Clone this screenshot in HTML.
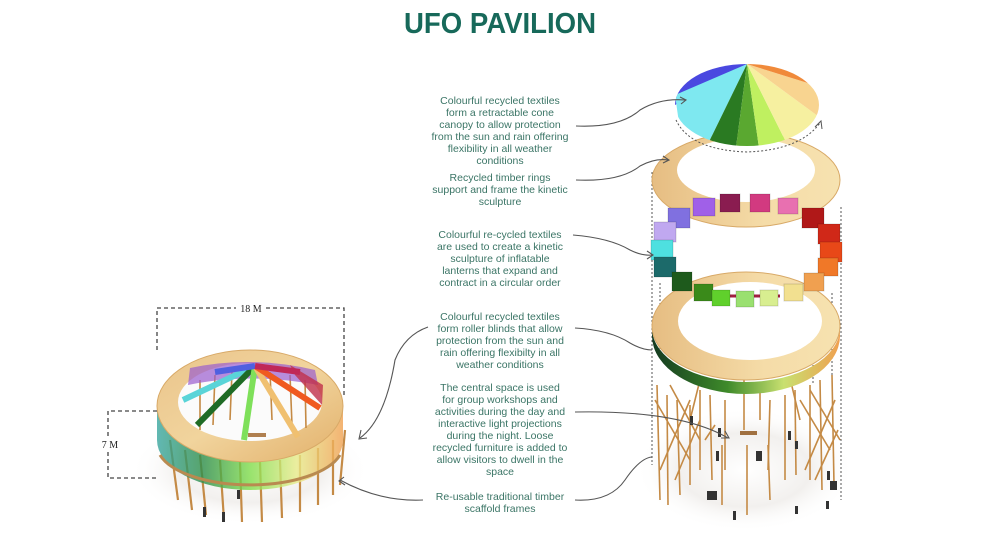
<!DOCTYPE html>
<html><head><meta charset="utf-8"><style>
html,body{margin:0;padding:0;background:#fff;}
svg{display:block}
.t{font-family:"Liberation Sans",sans-serif;font-size:10.5px;fill:#3b7566;text-anchor:middle}
.c{fill:none;stroke:#555;stroke-width:1.1}
.d{stroke:#555;stroke-width:1;stroke-dasharray:2,2;fill:none}
.dim{stroke:#444;stroke-width:1.3;stroke-dasharray:4,3;fill:none}
.leg{stroke:#c48a45;stroke-width:2.2}
.lg{stroke:#c48a45;stroke-width:1.6}
</style></head><body>
<svg width="1000" height="535" viewBox="0 0 1000 535" xmlns="http://www.w3.org/2000/svg">
<defs>
<radialGradient id="sh" cx="50%" cy="50%" r="50%"><stop offset="0" stop-color="#fff"/><stop offset="0.6" stop-color="#f2f0ee"/><stop offset="1" stop-color="#fff" stop-opacity="0"/></radialGradient>
<linearGradient id="wood" x1="0" y1="0" x2="1" y2="1"><stop offset="0" stop-color="#eac48b"/><stop offset="0.5" stop-color="#f1d49d"/><stop offset="1" stop-color="#e2b06a"/></linearGradient>
<linearGradient id="wood2" x1="0" y1="0" x2="1" y2="0"><stop offset="0" stop-color="#e6bd82"/><stop offset="0.6" stop-color="#f5dca8"/><stop offset="1" stop-color="#f6e2b0"/></linearGradient>
<linearGradient id="band" x1="0" y1="0" x2="1" y2="0"><stop offset="0" stop-color="#3aa6a0"/><stop offset="0.25" stop-color="#2e8f4a"/><stop offset="0.5" stop-color="#7fdc4a"/><stop offset="0.75" stop-color="#e8ec8a"/><stop offset="1" stop-color="#f0a050"/></linearGradient>
<linearGradient id="band2" x1="0" y1="0" x2="1" y2="0"><stop offset="0" stop-color="#143a20"/><stop offset="0.4" stop-color="#3e8a2a"/><stop offset="0.7" stop-color="#c8e070"/><stop offset="1" stop-color="#f0a050"/></linearGradient>
<clipPath id="canopy"><ellipse cx="747" cy="105" rx="72" ry="41"/></clipPath>
</defs>

<text x="500" y="33" font-family="'Liberation Sans',sans-serif" font-weight="bold" font-size="29" fill="#17695a" text-anchor="middle" textLength="192" lengthAdjust="spacingAndGlyphs">UFO PAVILION</text>

<g class="t">
<text x="500" y="104">Colourful recycled textiles</text>
<text x="500" y="116">form a retractable cone</text>
<text x="500" y="128">canopy to allow protection</text>
<text x="500" y="140">from the sun and rain offering</text>
<text x="500" y="152">flexibility in all weather</text>
<text x="500" y="164">conditions</text>
<text x="500" y="181">Recycled timber rings</text>
<text x="500" y="193">support and frame the kinetic</text>
<text x="500" y="205">sculpture</text>
<text x="500" y="238">Colourful re-cycled textiles</text>
<text x="500" y="250">are used to create a kinetic</text>
<text x="500" y="262">sculpture of inflatable</text>
<text x="500" y="274">lanterns that expand and</text>
<text x="500" y="286">contract in a circular order</text>
<text x="500" y="320">Colourful recycled textiles</text>
<text x="500" y="332">form roller blinds that allow</text>
<text x="500" y="344">protection from the sun and</text>
<text x="500" y="356">rain offering flexibilty in all</text>
<text x="500" y="368">weather conditions</text>
<text x="500" y="391">The central space is used</text>
<text x="500" y="403">for group workshops and</text>
<text x="500" y="415">activities during the day and</text>
<text x="500" y="427">interactive light projections</text>
<text x="500" y="439">during the night. Loose</text>
<text x="500" y="451">recycled furniture is added to</text>
<text x="500" y="463">allow visitors to dwell in the</text>
<text x="500" y="475">space</text>
<text x="500" y="500">Re-usable traditional timber</text>
<text x="500" y="512">scaffold frames</text>
</g>

<!-- LEFT PAVILION -->
<ellipse cx="250" cy="470" rx="120" ry="55" fill="url(#sh)"/>
<g class="leg">
<line x1="170" y1="440" x2="178" y2="500"/><line x1="185" y1="450" x2="192" y2="510"/><line x1="200" y1="455" x2="206" y2="515"/>
<line x1="220" y1="460" x2="224" y2="520"/><line x1="240" y1="462" x2="242" y2="522"/><line x1="260" y1="462" x2="262" y2="522"/>
<line x1="280" y1="460" x2="282" y2="518"/><line x1="300" y1="455" x2="300" y2="512"/><line x1="318" y1="448" x2="318" y2="505"/>
<line x1="333" y1="440" x2="333" y2="495"/><line x1="345" y1="430" x2="340" y2="485"/>
</g>
<path d="M157 406 L157 440 A93 50 0 0 0 343 440 L343 406 Z" fill="url(#band)" opacity="0.8"/>
<path d="M160 455 A93 40 0 0 0 340 455" fill="none" stroke="#b98a50" stroke-width="3"/>
<ellipse cx="250" cy="406" rx="93" ry="56" fill="url(#wood)" stroke="#d8a967" stroke-width="1"/>
<ellipse cx="250" cy="402" rx="72" ry="39" fill="#fbfbfb"/>
<g class="lg">
<line x1="200" y1="380" x2="200" y2="430"/><line x1="215" y1="375" x2="213" y2="425"/><line x1="232" y1="372" x2="230" y2="420"/>
<line x1="270" y1="372" x2="272" y2="420"/><line x1="290" y1="375" x2="292" y2="425"/><line x1="305" y1="380" x2="306" y2="428"/>
</g>
<path d="M190 368 Q250 355 315 370 L318 385 Q250 372 188 385 Z" fill="#9a5ccf" opacity="0.7"/>
<path d="M290 365 L323 385 L322 405 L295 375Z" fill="#c0304a" opacity="0.8"/>
<g stroke-width="6" stroke-linecap="butt">
<line x1="255" y1="366" x2="183" y2="400" stroke="#59d4d8"/>
<line x1="255" y1="366" x2="197" y2="425" stroke="#1f6b25"/>
<line x1="255" y1="366" x2="244" y2="440" stroke="#7ee05a"/>
<line x1="255" y1="366" x2="298" y2="437" stroke="#f0c070"/>
<line x1="255" y1="366" x2="320" y2="408" stroke="#f05a20"/>
<line x1="255" y1="366" x2="215" y2="372" stroke="#5060e0"/>
<line x1="255" y1="366" x2="300" y2="372" stroke="#c02858"/>
</g>
<rect x="248" y="433" width="18" height="4" fill="#b08050"/>
<g fill="#333"><rect x="203" y="507" width="3" height="10"/><rect x="222" y="512" width="3" height="10"/><rect x="237" y="490" width="3" height="9"/></g>

<path class="dim" d="M157 350 L157 308 L236 308 M266 308 L344 308 L344 398"/>
<text x="251" y="312" font-family="'Liberation Serif',serif" font-size="10" fill="#222" text-anchor="middle">18 M</text>
<path class="dim" d="M157 411 L108 411 L108 436 M108 452 L108 478 L157 478"/>
<text x="110" y="448" font-family="'Liberation Serif',serif" font-size="10" fill="#222" text-anchor="middle">7 M</text>

<!-- RIGHT: scaffold -->
<ellipse cx="745" cy="470" rx="110" ry="62" fill="url(#sh)"/>
<g class="lg">
<line x1="657" y1="385" x2="660" y2="500"/><line x1="667" y1="395" x2="668" y2="505"/><line x1="677" y1="400" x2="680" y2="495"/>
<line x1="690" y1="405" x2="690" y2="485"/><line x1="700" y1="390" x2="700" y2="470"/><line x1="710" y1="395" x2="712" y2="480"/>
<line x1="725" y1="400" x2="725" y2="470"/><line x1="744" y1="380" x2="744" y2="430"/><line x1="760" y1="385" x2="760" y2="420"/>
<line x1="770" y1="400" x2="768" y2="470"/><line x1="785" y1="395" x2="785" y2="480"/><line x1="795" y1="390" x2="796" y2="475"/>
<line x1="810" y1="385" x2="810" y2="480"/><line x1="820" y1="380" x2="822" y2="490"/><line x1="832" y1="375" x2="834" y2="485"/>
<line x1="747" y1="445" x2="747" y2="515"/><line x1="722" y1="445" x2="722" y2="505"/><line x1="768" y1="445" x2="770" y2="500"/>
<line x1="655" y1="400" x2="690" y2="460"/><line x1="660" y1="470" x2="690" y2="400"/><line x1="670" y1="385" x2="700" y2="440"/>
<line x1="675" y1="480" x2="700" y2="420"/><line x1="800" y1="400" x2="830" y2="450"/><line x1="805" y1="470" x2="835" y2="400"/>
<line x1="810" y1="390" x2="840" y2="440"/><line x1="815" y1="480" x2="838" y2="430"/><line x1="700" y1="380" x2="690" y2="420"/>
<line x1="790" y1="378" x2="800" y2="420"/><line x1="705" y1="440" x2="715" y2="425"/>
</g>
<g fill="#333"><rect x="690" y="416" width="3" height="9"/><rect x="718" y="428" width="3" height="9"/><rect x="716" y="451" width="3" height="10"/>
<rect x="756" y="451" width="6" height="10"/><rect x="788" y="431" width="3" height="9"/><rect x="795" y="441" width="3" height="8"/>
<rect x="707" y="491" width="10" height="9"/><rect x="733" y="511" width="3" height="9"/><rect x="795" y="506" width="3" height="8"/>
<rect x="827" y="471" width="3" height="9"/><rect x="830" y="481" width="7" height="9"/><rect x="826" y="501" width="3" height="8"/></g>
<rect x="740" y="431" width="17" height="4" fill="#a07040"/>

<g class="d">
<line x1="652" y1="172" x2="652" y2="465"/><line x1="841" y1="207" x2="841" y2="500"/>
<line x1="660" y1="283" x2="660" y2="355"/><line x1="672" y1="293" x2="672" y2="355"/><line x1="690" y1="300" x2="690" y2="365"/>
<line x1="708" y1="303" x2="708" y2="372"/><line x1="730" y1="306" x2="730" y2="375"/><line x1="753" y1="306" x2="753" y2="375"/>
<line x1="775" y1="305" x2="775" y2="375"/><line x1="795" y1="322" x2="795" y2="385"/><line x1="813" y1="305" x2="813" y2="385"/>
<line x1="832" y1="293" x2="832" y2="375"/>
</g>

<!-- ring 2 -->
<path d="M652 328 A94 54 0 0 0 840 328 L840 336 A94 58 0 0 1 652 336 Z" fill="url(#band2)"/>
<ellipse cx="746" cy="326" rx="94" ry="54" fill="url(#wood2)" stroke="#d8a967" stroke-width="1"/>
<ellipse cx="750" cy="321" rx="72" ry="39" fill="#fff"/>
<path d="M715 296 L780 296" stroke="#a02040" stroke-width="3"/>

<!-- ring 1 -->
<ellipse cx="746" cy="180" rx="94" ry="47" fill="url(#wood2)" stroke="#d8a967" stroke-width="1"/>
<ellipse cx="746" cy="170" rx="69" ry="32" fill="#fff"/>

<!-- lanterns -->
<g stroke="#000" stroke-opacity="0.15" stroke-width="1">
<rect x="720" y="194" width="20" height="18" fill="#8a1c50"/><rect x="750" y="194" width="20" height="18" fill="#d23a80"/>
<rect x="778" y="198" width="20" height="16" fill="#e870b0"/><rect x="693" y="198" width="22" height="18" fill="#a060e8"/>
<rect x="668" y="208" width="22" height="20" fill="#8070e0"/><rect x="802" y="208" width="22" height="20" fill="#b01818"/>
<rect x="818" y="224" width="22" height="20" fill="#d02818"/><rect x="654" y="222" width="22" height="20" fill="#c0a8f0"/>
<rect x="651" y="240" width="22" height="20" fill="#4ee0e0"/><rect x="820" y="242" width="22" height="20" fill="#e84818"/>
<rect x="654" y="257" width="22" height="20" fill="#1c6a6a"/><rect x="818" y="258" width="20" height="18" fill="#f07828"/>
<rect x="672" y="272" width="20" height="19" fill="#1e5a1c"/><rect x="804" y="273" width="20" height="18" fill="#f0a050"/>
<rect x="694" y="284" width="19" height="17" fill="#3a8a1a"/><rect x="784" y="284" width="19" height="17" fill="#f2e090"/>
<rect x="712" y="290" width="18" height="16" fill="#60d02c"/><rect x="736" y="291" width="18" height="16" fill="#9ae070"/>
<rect x="760" y="290" width="18" height="16" fill="#d8ee90"/>
</g>

<!-- canopy -->
<g clip-path="url(#canopy)">
<polygon points="747,64 600,40 600,105 675,105" fill="#4a48e0"/>
<polygon points="747,64 675,95 680,130 705,150" fill="#7ee8f0"/>
<polygon points="747,64 705,150 735,155" fill="#2a7a22"/>
<polygon points="747,64 735,155 760,155" fill="#5aa830"/>
<polygon points="747,64 760,155 790,150" fill="#bff060"/>
<polygon points="747,64 790,150 830,125" fill="#f6f0a0"/>
<polygon points="747,64 830,125 830,90" fill="#f8d490"/>
<polygon points="747,64 830,90 830,40" fill="#f08a3a"/>
<polygon points="747,64 830,40 747,40" fill="#d82020"/>
<polygon points="747,64 747,40 690,40" fill="#7040e0"/>
</g>
<path class="d" d="M676 120 Q690 150 747 152 Q800 150 820 123"/>
<path d="M815 127 L821 121 L822 129" fill="none" stroke="#555"/>

<g class="c">
<path d="M576 126 Q620 128 640 110 Q660 98 685 100"/><path d="M680 97 L686 100 L681 104"/>
<path d="M576 180 Q620 182 640 166 Q655 158 668 160"/><path d="M663 156 L669 160 L663 163"/>
<path d="M573 235 Q610 238 630 250 Q642 256 652 255"/><path d="M647 251 L653 255 L647 259"/>
<path d="M575 328 Q610 330 630 343 Q642 350 652 350"/>
<path d="M575 412 Q680 410 728 438"/><path d="M721 438 L729 438 L725 431"/>
<path d="M575 500 Q610 502 625 480 Q640 458 652 457"/>
<path d="M428 327 Q405 335 395 360 Q385 420 360 438"/><path d="M361 430 L359 439 L367 438"/>
<path d="M423 500 Q380 502 340 480"/><path d="M344 477 L339 481 L345 485"/>
</g>
</svg>
</body></html>
